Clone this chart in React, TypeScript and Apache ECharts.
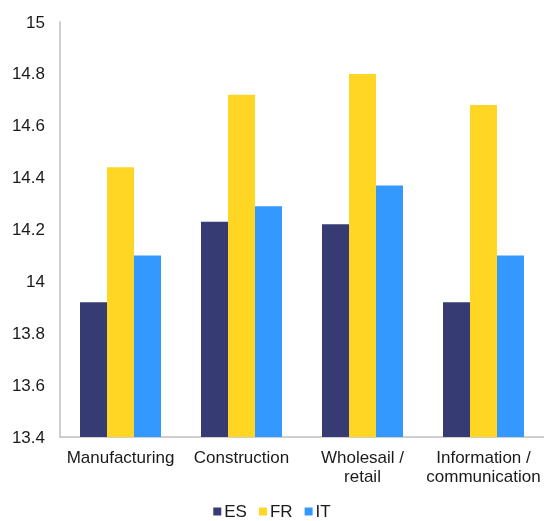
import React, { useEffect, useRef } from "react";
import * as echarts from "echarts";

const categories = ["Manufacturing", "Construction", "Wholesail /\nretail", "Information /\ncommunication"];
const esValues = [13.92, 14.23, 14.22, 13.92];
const frValues = [14.44, 14.72, 14.8, 14.68];
const itValues = [14.1, 14.29, 14.37, 14.1];
const seriesNames = ["ES", "FR", "IT"];
const colors = ["#363C73", "#FFD624", "#3399FF"];

export default function App() {
  const ref = useRef<HTMLDivElement>(null);
  useEffect(() => {
    if (!ref.current) return;
    const chart = echarts.init(ref.current, null, { renderer: "svg" });
    const font = "'Liberation Sans', Arial, sans-serif";
    const data = [esValues, frValues, itValues];
    chart.setOption({
      animation: false,
      textStyle: { fontFamily: font },
      grid: { left: 60, top: 22, width: 488, height: 415, containLabel: false },
      legend: {
        data: seriesNames,
        top: 498,
        left: "center",
        itemWidth: 8,
        itemHeight: 8,
        itemGap: 12,
        icon: "rect",
        textStyle: { fontSize: 17, lineHeight: 17, color: "#1a1a1a", fontFamily: font, padding: [0, 0, 0, -2] },
      },
      xAxis: {
        type: "category",
        data: categories,
        axisTick: { show: false },
        axisLine: { lineStyle: { color: "#BFBFBF", width: 1.5 } },
        axisLabel: { fontSize: 17, color: "#1a1a1a", lineHeight: 19, margin: 11, interval: 0, fontFamily: font },
      },
      yAxis: {
        type: "value",
        min: 13.4,
        max: 15,
        interval: 0.2,
        splitLine: { show: false },
        axisTick: { show: false },
        axisLine: { show: true, lineStyle: { color: "#BFBFBF", width: 1.5 } },
        axisLabel: { fontSize: 17, color: "#1a1a1a", margin: 15, fontFamily: font },
      },
      series: seriesNames.map((name, i) => ({
        name,
        type: "bar",
        data: data[i],
        barWidth: 27,
        barGap: "0%",
        itemStyle: { color: colors[i] },
      })),
    });
    return () => chart.dispose();
  }, []);
  return <div ref={ref} style={{ position: "fixed", left: 0, top: 0, width: 544, height: 521 }} />;
}
